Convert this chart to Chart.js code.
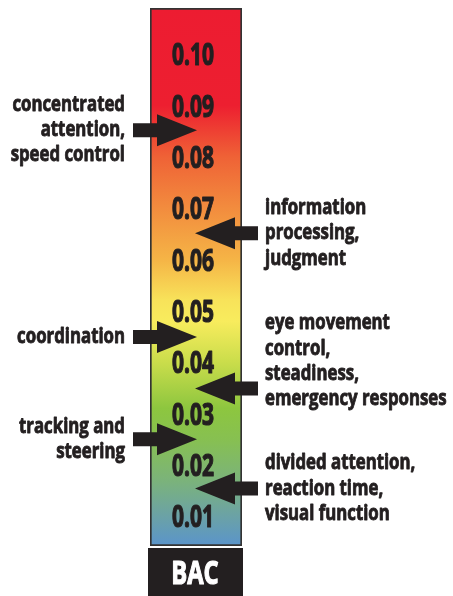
<!DOCTYPE html>
<html>
<head>
<meta charset="utf-8">
<script src="https://cdn.jsdelivr.net/npm/chart.js@4.4.1/dist/chart.umd.min.js"></script>
<style>
  body { margin: 0; background: #fff; }
  #wrap { width: 453px; height: 596px; position: relative; }
</style>
</head>
<body>
<div id="wrap"><canvas id="bacChart"></canvas></div>
<script>
const categories = ['BAC'];
const barRange = [0.0042, 0.109];

const tickValues = [0.01, 0.02, 0.03, 0.04, 0.05, 0.06, 0.07, 0.08, 0.09, 0.10];
const tickLabels = ['0.01', '0.02', '0.03', '0.04', '0.05', '0.06', '0.07', '0.08', '0.09', '0.10'];

const arrowValues = [0.0852, 0.0651, 0.0449, 0.0349, 0.0250, 0.0154];
const arrowSides = ['left', 'right', 'left', 'right', 'left', 'right'];
const labelValues = [0.0852, 0.0651, 0.0449, 0.0402, 0.0250, 0.0154];
const labelLines = [
    ['concentrated', 'attention,', 'speed control'],
    ['information', 'processing,', 'judgment'],
    ['coordination'],
    ['eye movement', 'control,', 'steadiness,', 'emergency responses'],
    ['tracking and', 'steering'],
    ['divided attention,', 'reaction time,', 'visual function']
];

const ink = '#231f20';
const fontFamily = '"Open Sans", "Noto Sans", sans-serif';

const gradientStops = [
    [0.109, '#ed1c31'],
    [0.090, '#ed1f30'],
    [0.080, '#ef6236'],
    [0.070, '#f28c3e'],
    [0.060, '#f5b446'],
    [0.052, '#f8e35a'],
    [0.048, '#f8ec5d'],
    [0.040, '#cadd4b'],
    [0.031, '#8dc63f'],
    [0.025, '#87c051'],
    [0.017, '#7bb37a'],
    [0.010, '#6ba2a6'],
    [0.0042, '#5a94cb']
];

function barGradient(context) {
    const chart = context.chart;
    const area = chart.chartArea;
    if (!area) return '#f8ec5d';
    const y = chart.scales.y;
    const g = chart.ctx.createLinearGradient(0, area.top, 0, area.bottom);
    const span = area.bottom - area.top;
    gradientStops.forEach(([v, c]) => {
        let t = (y.getPixelForValue(v) - area.top) / span;
        t = Math.min(1, Math.max(0, t));
        g.addColorStop(t, c);
    });
    return g;
}

// condensed, heavy text: squeeze horizontally and thicken with a stroke
function narrowText(ctx, txt, x, y, sx, weight) {
    ctx.save();
    ctx.translate(x, y);
    ctx.scale(sx, 1);
    ctx.fillText(txt, 0, 0);
    if (weight) {
        ctx.strokeStyle = ctx.fillStyle;
        ctx.lineWidth = weight;
        ctx.lineJoin = 'round';
        ctx.strokeText(txt, 0, 0);
    }
    ctx.restore();
}

const overlayPlugin = {
    id: 'bacOverlay',
    afterDatasetsDraw(chart) {
        const ctx = chart.ctx;
        const y = chart.scales.y;
        const bar = chart.getDatasetMeta(0).data[0];
        const left = bar.x - bar.width / 2;
        const right = bar.x + bar.width / 2;
        const area = chart.chartArea;

        ctx.save();
        // tick labels inside the bar
        ctx.fillStyle = ink;
        ctx.font = 'bold 30px ' + fontFamily;
        ctx.textAlign = 'center';
        ctx.textBaseline = 'alphabetic';
        tickValues.forEach((v, i) => {
            narrowText(ctx, tickLabels[i], bar.x - 3, y.getPixelForValue(v) + 11, 0.7, 1.2);
        });

        // arrows
        arrowValues.forEach((v, i) => {
            const py = y.getPixelForValue(v);
            ctx.beginPath();
            if (arrowSides[i] === 'left') {
                const tail = left - 17, tip = left + 47, base = tip - 40;
                ctx.moveTo(tail, py - 7);
                ctx.lineTo(base, py - 7);
                ctx.lineTo(base, py - 16);
                ctx.lineTo(tip, py);
                ctx.lineTo(base, py + 16);
                ctx.lineTo(base, py + 7);
                ctx.lineTo(tail, py + 7);
            } else {
                const tail = right + 16, tip = right - 47, base = tip + 40;
                ctx.moveTo(tail, py - 7);
                ctx.lineTo(base, py - 7);
                ctx.lineTo(base, py - 16);
                ctx.lineTo(tip, py);
                ctx.lineTo(base, py + 16);
                ctx.lineTo(base, py + 7);
                ctx.lineTo(tail, py + 7);
            }
            ctx.closePath();
            ctx.fill();
        });

        // side labels
        ctx.font = 'bold 21px ' + fontFamily;
        const lineH = 25.3;
        labelLines.forEach((lines, i) => {
            const cy = y.getPixelForValue(labelValues[i]);
            const start = cy - (lines.length - 1) * lineH / 2;
            const isLeft = arrowSides[i] === 'left';
            ctx.textAlign = isLeft ? 'right' : 'left';
            const x = isLeft ? left - 25 : right + 23;
            lines.forEach((txt, j) => {
                narrowText(ctx, txt, x, start + j * lineH + 6, 0.8, 0.9);
            });
        });

        // category box under the bar
        ctx.fillStyle = ink;
        ctx.fillRect(left - 2, area.bottom + 2, bar.width + 3, chart.height - area.bottom - 2);
        ctx.fillStyle = '#ffffff';
        ctx.font = 'bold 33px ' + fontFamily;
        ctx.textAlign = 'center';
        narrowText(ctx, categories[0], bar.x - 1, area.bottom + 38, 0.72, 1.2);
        ctx.restore();
    }
};

new Chart(document.getElementById('bacChart'), {
    type: 'bar',
    data: {
        labels: categories,
        datasets: [{
            data: [barRange],
            backgroundColor: barGradient,
            borderColor: '#333333',
            borderWidth: 2,
            borderSkipped: false,
            barPercentage: 1,
            categoryPercentage: 1
        }]
    },
    options: {
        responsive: true,
        maintainAspectRatio: false,
        animation: false,
        layout: {
            padding: { left: 150, right: 211, top: 8, bottom: 50 }
        },
        scales: {
            x: { display: false },
            y: { display: false, min: barRange[0], max: barRange[1] }
        },
        plugins: {
            legend: { display: false },
            tooltip: { enabled: false }
        }
    },
    plugins: [overlayPlugin]
});
</script>
</body>
</html>
